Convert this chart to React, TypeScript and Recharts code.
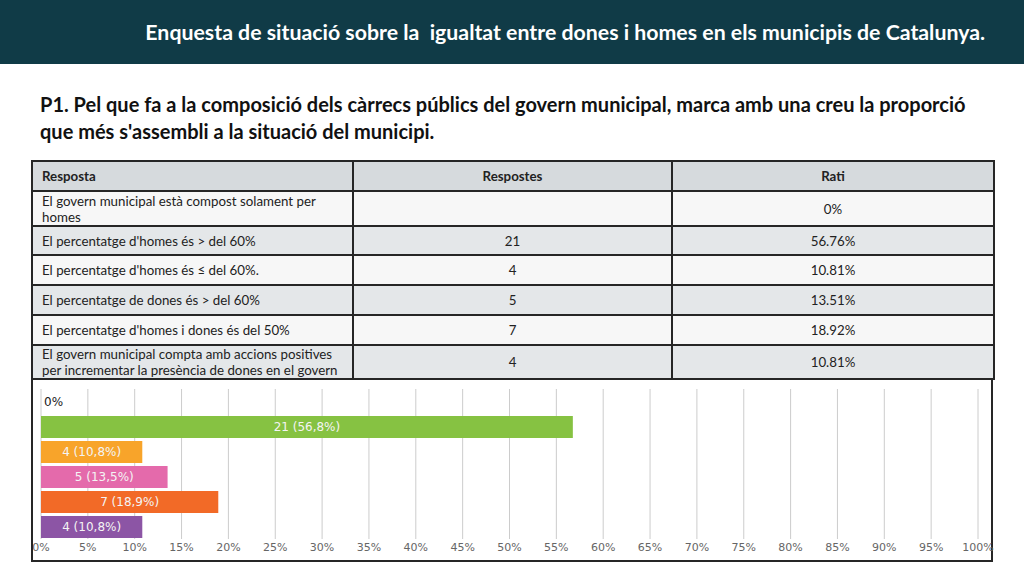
import React from "react";
import { Bar, BarChart, CartesianGrid, Cell, LabelList, XAxis, YAxis } from "recharts";

const categories = [
  "El govern municipal està compost solament per homes",
  "El percentatge d'homes és > del 60%",
  "El percentatge d'homes és ≤ del 60%.",
  "El percentatge de dones és > del 60%",
  "El percentatge d'homes i dones és del 50%",
  "El govern municipal compta amb accions positives per incrementar la presència de dones en el govern",
];
const counts = [0, 21, 4, 5, 7, 4];
const ratios = [0, 56.76, 10.81, 13.51, 18.92, 10.81];
const countLabels = ["", "21", "4", "5", "7", "4"];
const ratioLabels = ["0%", "56.76%", "10.81%", "13.51%", "18.92%", "10.81%"];
const barColors = ["transparent", "#86c242", "#f8a42a", "#e46aab", "#f26a27", "#8c55a5"];
const xTicks = [0, 5, 10, 15, 20, 25, 30, 35, 40, 45, 50, 55, 60, 65, 70, 75, 80, 85, 90, 95, 100];

const rowHeights = [35, 29, 30, 30, 30, 34];

const fmt = (v: number) => v.toFixed(1).replace(".", ",");

const chartData = categories.map((name, i) => ({
  name,
  ratio: ratios[i],
  label: ratios[i] === 0 ? "0%" : `${counts[i]} (${fmt(ratios[i])}%)`,
  zero: ratios[i] === 0,
}));

function BarLabel(props: any) {
  const { x, y, width, height, value } = props;
  if (value === "0%") {
    return (
      <text x={x + 3} y={y + height / 2} dy="0.35em" fontSize={12} fill="#1a1a1a" fontFamily="DejaVu Sans">
        {value}
      </text>
    );
  }
  return (
    <text
      x={x + width / 2}
      y={y + height / 2}
      dy="0.35em"
      textAnchor="middle"
      fontSize={12}
      fill="#f4f4f4"
      fontFamily="DejaVu Sans"
    >
      {value}
    </text>
  );
}

const cellBase: React.CSSProperties = {
  border: "2px solid #262626",
  padding: "0 9px",
  fontSize: 13.3,
  lineHeight: "16px",
  color: "#222",
};

export default function App() {
  return (
    <div
      style={{
        position: "absolute",
        left: 0,
        top: 0,
        width: 1024,
        height: 576,
        background: "#fff",
        fontFamily: "Lato, 'Open Sans', sans-serif",
        overflow: "hidden",
      }}
    >
      <div
        style={{
          height: 64,
          background: "#103b47",
          color: "#fff",
          fontWeight: 700,
          fontSize: 21.3,
          textAlign: "right",
          paddingRight: 39,
          lineHeight: "64px",
          boxSizing: "border-box",
          whiteSpace: "nowrap",
        }}
      >
        Enquesta de situació sobre la&nbsp; igualtat entre dones i homes en els municipis de Catalunya.
      </div>

      <div
        style={{
          position: "absolute",
          left: 40,
          top: 91,
          fontWeight: 700,
          fontSize: 20,
          lineHeight: "27px",
          color: "#111",
          whiteSpace: "nowrap",
        }}
      >
        P1. Pel que fa a la composició dels càrrecs públics del govern municipal, marca amb una creu la proporció
        <br />
        que més s'assembli a la situació del municipi.
      </div>

      <table
        style={{
          position: "absolute",
          left: 31,
          top: 160,
          width: 962,
          borderCollapse: "collapse",
          tableLayout: "fixed",
        }}
      >
        <colgroup>
          <col style={{ width: 321 }} />
          <col style={{ width: 319 }} />
          <col style={{ width: 322 }} />
        </colgroup>
        <tbody>
          <tr style={{ height: 30, background: "#d6dadd" }}>
            <td style={{ ...cellBase, fontWeight: 700 }}>Resposta</td>
            <td style={{ ...cellBase, fontWeight: 700, textAlign: "center" }}>Respostes</td>
            <td style={{ ...cellBase, fontWeight: 700, textAlign: "center" }}>Rati</td>
          </tr>
          {categories.map((c, i) => (
            <tr key={c} style={{ height: rowHeights[i], background: i % 2 === 0 ? "#f7f7f7" : "#e4e7e9" }}>
              <td style={cellBase}>{c}</td>
              <td style={{ ...cellBase, textAlign: "center" }}>{countLabels[i]}</td>
              <td style={{ ...cellBase, textAlign: "center" }}>{ratioLabels[i]}</td>
            </tr>
          ))}
        </tbody>
      </table>

      <div
        style={{
          position: "absolute",
          left: 31,
          top: 378,
          width: 962,
          height: 184,
          border: "2px solid #262626",
          boxSizing: "border-box",
          background: "#fff",
        }}
      />
      <div style={{ position: "absolute", left: 33, top: 380 }}>
        <BarChart
          layout="vertical"
          width={985}
          height={180}
          data={chartData}
          margin={{ top: 9, right: 40, bottom: 0, left: 8 }}
          barSize={22}
        >
          <CartesianGrid horizontal={false} stroke="#cccccc" />
          <XAxis
            type="number"
            dataKey="ratio"
            domain={[0, 100]}
            ticks={xTicks}
            interval={0}
            tickFormatter={(v) => `${v}%`}
            axisLine={false}
            tickLine={false}
            tickSize={2}
            height={21}
            tick={{ fontSize: 11, fill: "#666", fontFamily: "DejaVu Sans" }}
          />
          <YAxis type="category" dataKey="name" hide />
          <Bar dataKey="ratio" isAnimationActive={false} minPointSize={1}>
            {chartData.map((d, i) => (
              <Cell key={i} fill={barColors[i]} />
            ))}
            <LabelList dataKey="label" content={<BarLabel />} />
          </Bar>
        </BarChart>
      </div>
    </div>
  );
}
